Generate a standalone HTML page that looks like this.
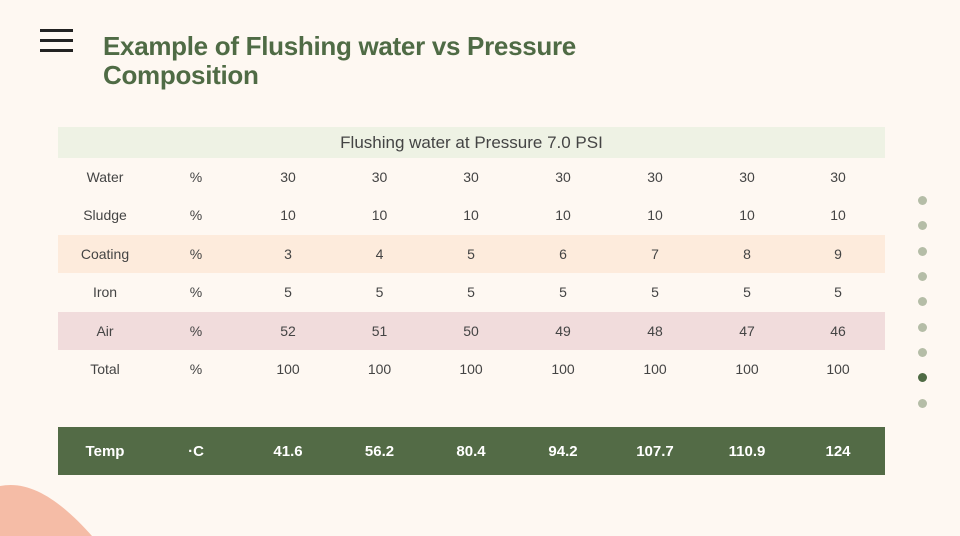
<!DOCTYPE html>
<html><head><meta charset="utf-8">
<style>
body{margin:0;width:960px;height:536px;overflow:hidden;background:#fef8f2;font-family:"Liberation Sans",sans-serif;position:relative}
.t{position:absolute;color:#4f6b45;font-weight:bold;font-size:26px;line-height:29px;left:103px;top:32px;letter-spacing:-0.3px}
.row{position:absolute;left:58px;width:827px;height:38px}
.c{position:absolute;top:0;height:100%;display:flex;align-items:center;justify-content:center;width:90px;margin-left:-45px;font-size:14px;color:#444}
.dot{position:absolute;left:918px;width:9px;height:9px;border-radius:50%;background:#b5bda7}
</style></head><body>
<svg style="position:absolute;left:40px;top:29px" width="33" height="24"><rect y="0" width="33" height="3" fill="#222"/><rect y="10" width="33" height="3" fill="#222"/><rect y="20" width="33" height="3" fill="#222"/></svg>
<div class="t">Example of Flushing water vs Pressure<br>Composition</div>
<div style="position:absolute;left:58px;top:127px;width:827px;height:31px;background:#eef2e4;display:flex;align-items:center;justify-content:center;font-size:17px;color:#444">Flushing water at Pressure 7.0 PSI</div>
<div id="tbl"></div>
<svg style="position:absolute;left:0;top:480px" width="120" height="56"><path d="M0 6 C30 0 60 20 92 56 L0 56 Z" fill="#f5bca6"/></svg>
<script>
const rows=[["Water","%",[30,30,30,30,30,30,30],""],["Sludge","%",[10,10,10,10,10,10,10],""],["Coating","%",[3,4,5,6,7,8,9],"#fdebdc"],["Iron","%",[5,5,5,5,5,5,5],""],["Air","%",[52,51,50,49,48,47,46],"#f1dcdc"],["Total","%",[100,100,100,100,100,100,100],""]];
const temps=["41.6","56.2","80.4","94.2","107.7","110.9","124"];
const xs=[47,138,230,321.5,413,505,597,689,780];
const tbl=document.getElementById('tbl');
function mk(top,h,cells,bg,white,name){
 const r=document.createElement('div');r.className='row';
 
 
 r.style.top=top+'px';r.style.height=h+'px';if(bg)r.style.background=bg;
 cells.forEach((v,i)=>{const c=document.createElement('div');c.className='c';c.style.left=xs[i]+'px';c.textContent=v;
  if(white){c.style.color='#fff';c.style.fontWeight='bold';c.style.fontSize='15px';}
  
  
  r.appendChild(c);});
 tbl.appendChild(r);
}
rows.forEach((r,i)=>mk(158+i*38.4,38,[r[0],r[1],...r[2]],r[3],false,r[0].toLowerCase()+'-row'));
mk(427,48,["Temp","·C",...temps],"#536b46",true,'temp-row');
[200,225,251,276,301,327,352,377,403].forEach((y,i)=>{const d=document.createElement('div');d.className='dot';d.style.top=(y-4)+'px';if(i==7)d.style.background='#4f6b45';
 
 
 document.body.appendChild(d);});
</script>
</body></html>
